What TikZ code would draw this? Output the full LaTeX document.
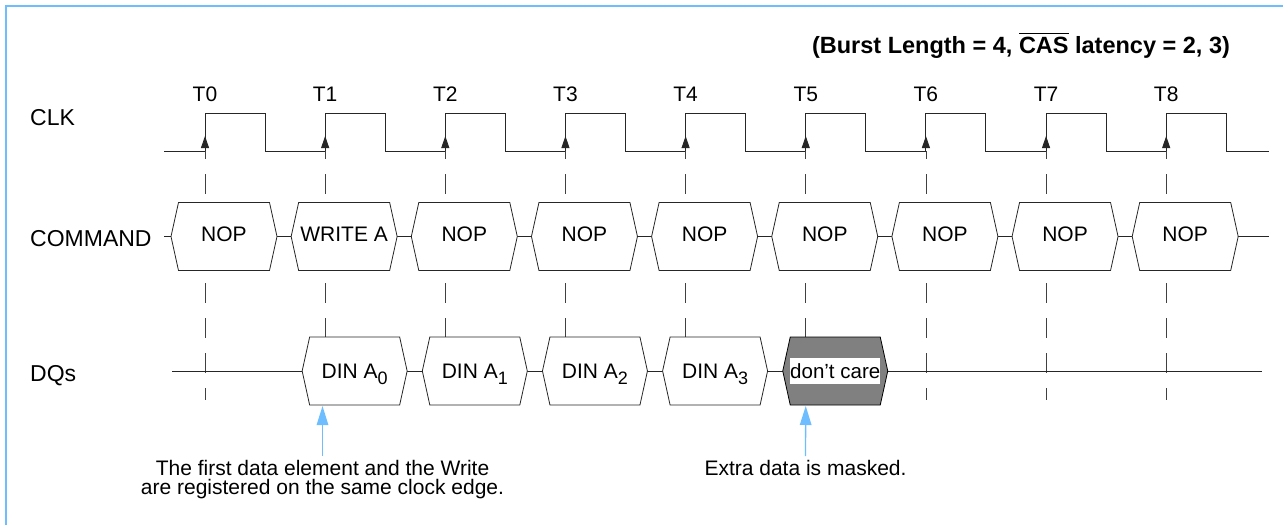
\documentclass[tikz,border=0pt]{standalone}
\usepackage{amsmath}
\usepackage{fontspec}
\setmainfont{Liberation Sans}
\usepackage{tikz}
\usetikzlibrary{arrows.meta}

\definecolor{noteblue}{RGB}{110,190,255}
\tikzset{
  wave/.style={line width=0.9pt, black!85},
  guide/.style={line width=0.8pt, black!75, dash pattern=on 20pt off 15pt},
  hexa/.style={line width=0.8pt, black!85, fill=white},
  lbl/.style={inner sep=0pt, anchor=base, font=\fontsize{21}{21}\selectfont},
  rowlbl/.style={inner sep=0pt, anchor=base west, font=\fontsize{23}{23}\selectfont},
  note/.style={inner sep=0pt, anchor=north, align=center, font=\fontsize{21}{18.7}\selectfont},
  pointer/.style={noteblue, line width=1.3pt, -{Triangle[length=19pt,width=11.5pt]}},
}

\begin{document}
\begin{tikzpicture}[x=1pt, y=-1pt]
    \useasboundingbox (0,0) rectangle (1283,525);
    \draw[noteblue, line width=2pt] (1283,6) -- (6,6) -- (6,525);
    \node[inner sep=0pt, font=\bfseries\fontsize{23.5}{23.5}\selectfont] (title) at (1021,45)
      {(Burst Length = 4, $\overline{\mbox{\bfseries CAS}}$ latency = 2, 3)};
    \node[rowlbl] (clk) at (30,125.5) {CLK};
    \node[rowlbl] (cmd) at (30,246.5) {COMMAND};
    \node[rowlbl] (dqs) at (30,381.5) {DQs};
    \def\n{8}
    % clock, edges and guide lines
    \draw[wave] (164,151) -- (205,151);
    \foreach \i in {0,...,\n} {
      \pgfmathparse{205+120.15*\i}
      \let\tx\pgfmathresult
      \pgfmathparse{min(\tx+120.15,1269)}
      \let\te\pgfmathresult
      \coordinate (e\i) at (\tx,151);
      \coordinate (b\i) at (\tx,406);
      \node[lbl] (T\i) at (\tx,101.5) {T\i};
      \draw[wave] (e\i) -- (\tx,113) -- (\tx+60,113) -- (\tx+60,151) -- (\te,151);
      \draw[wave, -{Triangle[length=12pt,width=8pt]}] (e\i) -- (\tx,136);
      \draw[guide, dash phase=12pt] (e\i) -- (\tx,203);
      \draw[guide, dash phase=22pt] (\tx,270) -- (\tx,400);
    }
    \draw[wave] (164,236.5) -- (1269,236.5);
    \draw[wave] (172,371) -- (1262,371);
    % command bus
    \foreach \i/\txt in {0/NOP,1/WRITE A,2/NOP,3/NOP,4/NOP,5/NOP,6/NOP,7/NOP,8/NOP} {
      \pgfmathparse{205+120.15*\i}
      \let\tx\pgfmathresult
      \draw[hexa] (\tx-34,236.5) -- (\tx-26.5,202.5) -- (\tx+64.5,202.5) -- (\tx+72,236.5)
        -- (\tx+64.5,270.5) -- (\tx-26.5,270.5) -- cycle;
      \node[lbl] (c\i) at (\tx+19,241.5) {\txt};
    }
    % data bus
    \foreach \i in {1,...,4} {
      \pgfmathparse{205+120.15*\i}
      \let\tx\pgfmathresult
      \pgfmathtruncatemacro\j{\i-1}
      \draw[hexa] (\tx-23,371) -- (\tx-15.5,337) -- (\tx+74.5,337) -- (\tx+82,371)
        -- (\tx+74.5,405) -- (\tx-15.5,405) -- cycle;
      \node[lbl] (d\i) at (\tx+29.5,378) {DIN A\raisebox{-6pt}{\fontsize{18}{18}\selectfont\j}};
    }
    \pgfmathparse{205+120.15*5}
    \let\tx\pgfmathresult
    \draw[hexa, fill=black!50, draw=black] (\tx-23,371) -- (\tx-15.5,337) -- (\tx+74.5,337)
      -- (\tx+82,371) -- (\tx+74.5,405) -- (\tx-15.5,405) -- cycle;
    \node[inner sep=0pt, fill=white, minimum width=90pt, minimum height=26pt,
      font=\fontsize{20.5}{20.5}\selectfont] (d5) at (\tx+29.5,371) {don't care};
    % notes
    \node[note] (firstnote) at (322.5,460)
      {The first data element and the Write\\are registered on the same clock edge.};
    \node[note] (masknote) at (805.5,460) {Extra data is masked.};
    \draw[pointer] ([yshift=4pt]firstnote.north) -- (firstnote.north |- b1);
    \draw[pointer] ([yshift=4pt]masknote.north) -- (b5);
\end{tikzpicture}
\end{document}
